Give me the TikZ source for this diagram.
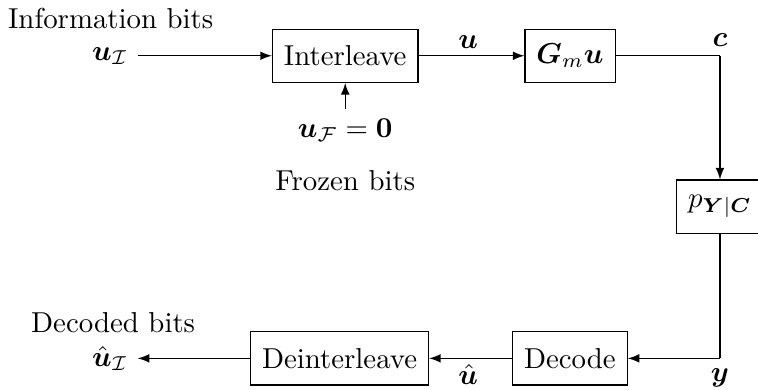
\documentclass[tikz,border=0pt]{standalone}
\usepackage{amsmath}
\usepackage{amssymb}
\usepackage{bm}
\usetikzlibrary{arrows.meta,positioning,calc}
\tikzset{
  chanBox/.style={
    draw,
    line width=0.4pt,
    minimum height=0.65cm,
    inner xsep=4pt,
    align=center
  },
  chanArrow/.style={
    -latex,
    line width=0.4pt
  },
  chanLine/.style={
    line width=0.4pt
  }
}

\begin{document}
\begin{tikzpicture}
  \useasboundingbox (0,0) rectangle (9.244,-4.744);
  \node[chanBox] (il) at (4.21,-0.68) {Interleave};
  \node[chanBox, right=1.29cm of il] (gmu) {$\bm{G}_m\bm{u}$};
  \node[chanBox] (pyc) at (8.78,-2.52) {$p_{\bm{Y}|\bm{C}}$};
  \node[chanBox] (dec) at (6.95,-4.37) {Decode};
  \node[chanBox, left=1.01cm of dec] (deil) {Deinterleave};

  \node (info) at (1.35,-0.22) {Information bits};
  \node (uI) at (1.34,-0.68) {$\bm{u}_{\mathcal{I}}$};
  \node (uF) at (4.21,-1.59) {$\bm{u}_{\mathcal{F}}=\bm{0}$};
  \node (frozen) at (4.21,-2.2) {Frozen bits};
  \node (decbits) at (1.38,-3.93) {Decoded bits};
  \node (uhatI) at (1.34,-4.37) {$\hat{\bm{u}}_{\mathcal{I}}$};

  \node (ulab) at (5.71,-0.51) {$\bm{u}$};
  \node (clab) at (8.78,-0.49) {$\bm{c}$};
  \node (ylab) at (8.78,-4.61) {$\bm{y}$};
  \node (uhat) at (5.71,-4.57) {$\hat{\bm{u}}$};

  \coordinate (ctop) at (pyc.north |- gmu.east);
  \coordinate (cbot) at (pyc.south |- dec.east);

  \draw[chanArrow] (uI) -- (il);
  \draw[chanArrow] (uF) -- (il);
  \draw[chanArrow] (il) -- (gmu);
  \draw[chanLine] (gmu) -- (ctop);
  \draw[chanArrow] (ctop) -- (pyc);
  \draw[chanLine] (pyc) -- (cbot);
  \draw[chanArrow] (cbot) -- (dec);
  \draw[chanArrow] (dec) -- (deil);
  \draw[chanArrow] (deil) -- (uhatI);
\end{tikzpicture}
\end{document}
